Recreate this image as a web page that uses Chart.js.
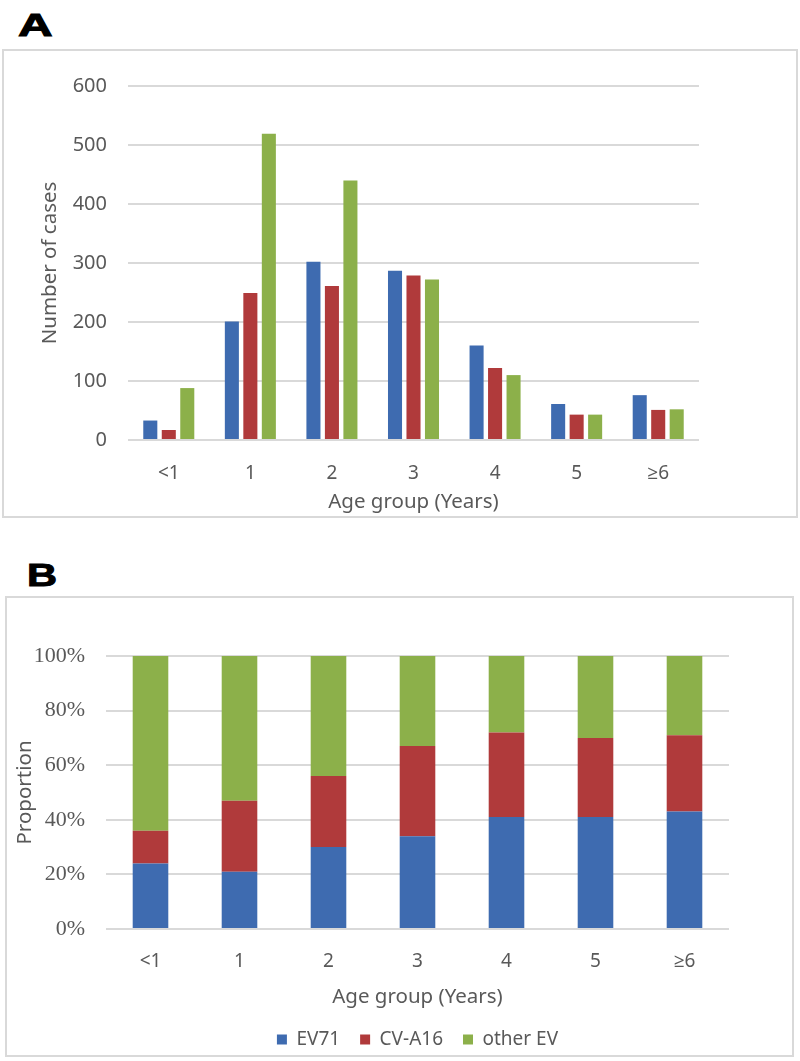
<!DOCTYPE html>
<html>
<head>
<meta charset="utf-8">
<script src="https://cdn.jsdelivr.net/npm/chart.js@4.4.1/dist/chart.umd.min.js"></script>
<style>
  body { margin: 0; width: 800px; height: 1061px; background: #fff; position: relative; overflow: hidden; }
  .panel-label { position: absolute; font-family: "Liberation Sans", Arial, sans-serif; font-weight: bold;
                 font-size: 32px; line-height: 1; color: #000; -webkit-text-stroke: 1px #000;
                 transform-origin: left top; }
  .frame { position: absolute; border: 2px solid #d9d9d9; box-sizing: border-box; }
  .frame canvas { position: absolute; left: 0; top: 0; }
</style>
</head>
<body>
<div class="panel-label" style="left:18px; top:9px; transform:scaleX(1.5);">A</div>
<div class="frame" style="left:2px; top:49px; width:796px; height:469px;">
  <canvas id="chartA" width="792" height="465"></canvas>
</div>
<div class="panel-label" style="left:27px; top:559px; transform:scaleX(1.3);">B</div>
<div class="frame" style="left:5px; top:596px; width:789px; height:461px;">
  <canvas id="chartB" width="785" height="461"></canvas>
</div>

<script>
// age groups on the x axis (both panels)
const ageGroups = ['<1', '1', '2', '3', '4', '5', '≥6'];
const seriesNames = ['EV71', 'CV-A16', 'other EV'];

// panel A: number of cases
const ev71Cases = [33, 201, 302, 287, 160, 61, 76];
const cva16Cases = [17, 249, 261, 279, 122, 43, 51];
const otherEvCases = [88, 519, 440, 272, 110, 43, 52];

// panel B: proportion (%) of each age group
const ev71Share = [24, 21, 30, 34, 41, 41, 43];
const cva16Share = [12, 26, 26, 33, 31, 29, 28];
const otherEvShare = [64, 53, 44, 33, 28, 30, 29];

const BLUE = '#3e6bb0';
const RED = '#b03a3b';
const GREEN = '#8cb04a';
const GREY_TEXT = '#595959';
const GRID = '#d9d9d9';

Chart.defaults.font.family = '"Noto Sans", "Open Sans", sans-serif';
Chart.defaults.color = GREY_TEXT;

const barA = { categoryPercentage: 0.68, barPercentage: 0.76, borderWidth: 0 };

new Chart(document.getElementById('chartA'), {
  type: 'bar',
  data: {
    labels: ageGroups,
    datasets: [
      { label: seriesNames[0], data: ev71Cases, backgroundColor: BLUE, ...barA },
      { label: seriesNames[1], data: cva16Cases, backgroundColor: RED, ...barA },
      { label: seriesNames[2], data: otherEvCases, backgroundColor: GREEN, ...barA }
    ]
  },
  options: {
    responsive: false,
    animation: false,
    devicePixelRatio: 1,
    layout: { padding: { left: 0, right: 97, top: 35, bottom: 0 } },
    plugins: { legend: { display: false }, tooltip: { enabled: false } },
    scales: {
      x: {
        grid: { display: false },
        border: { display: false },
        ticks: { padding: 14, font: { size: 19 } },
        title: { display: true, text: 'Age group (Years)', font: { size: 20.5 }, padding: { top: 0, bottom: 2 } },
        afterFit: s => { s.height = 76; }
      },
      y: {
        min: 0,
        max: 600,
        ticks: { stepSize: 100, padding: 21, font: { size: 20 } },
        grid: { color: GRID, lineWidth: 2, drawTicks: false },
        border: { display: false },
        title: { display: true, text: 'Number of cases', font: { size: 20.5 }, padding: { top: 34, bottom: 0 } },
        afterFit: s => { s.width = 124; }
      }
    }
  }
});

const barB = { categoryPercentage: 1, barPercentage: 0.4, borderWidth: 0 };

new Chart(document.getElementById('chartB'), {
  type: 'bar',
  data: {
    labels: ageGroups,
    datasets: [
      { label: seriesNames[0], data: ev71Share, backgroundColor: BLUE, ...barB },
      { label: seriesNames[1], data: cva16Share, backgroundColor: RED, ...barB },
      { label: seriesNames[2], data: otherEvShare, backgroundColor: GREEN, ...barB }
    ]
  },
  options: {
    responsive: false,
    animation: false,
    devicePixelRatio: 1,
    layout: { padding: { left: 0, right: 63, top: 58, bottom: 0 } },
    plugins: {
      tooltip: { enabled: false },
      legend: {
        position: 'bottom',
        fullSize: false,
        labels: { boxWidth: 10, boxHeight: 10, padding: 20, font: { size: 19 } }
      }
    },
    scales: {
      x: {
        stacked: true,
        grid: { display: false },
        border: { display: false },
        ticks: { padding: 13, font: { size: 19 } },
        title: { display: true, text: 'Age group (Years)', font: { size: 20.5 }, padding: { top: 0, bottom: 1 } },
        afterFit: s => { s.height = 81; }
      },
      y: {
        stacked: true,
        min: 0,
        max: 100,
        ticks: {
          stepSize: 20,
          padding: 21,
          font: { family: '"Liberation Serif", "Times New Roman", serif', size: 22 },
          callback: v => v + '%'
        },
        grid: { color: GRID, lineWidth: 2, drawTicks: false },
        border: { display: false },
        title: { display: true, text: 'Proportion', font: { size: 20.5 }, padding: { top: 6, bottom: 0 } },
        afterFit: s => { s.width = 99; }
      }
    }
  }
});
</script>
</body>
</html>
